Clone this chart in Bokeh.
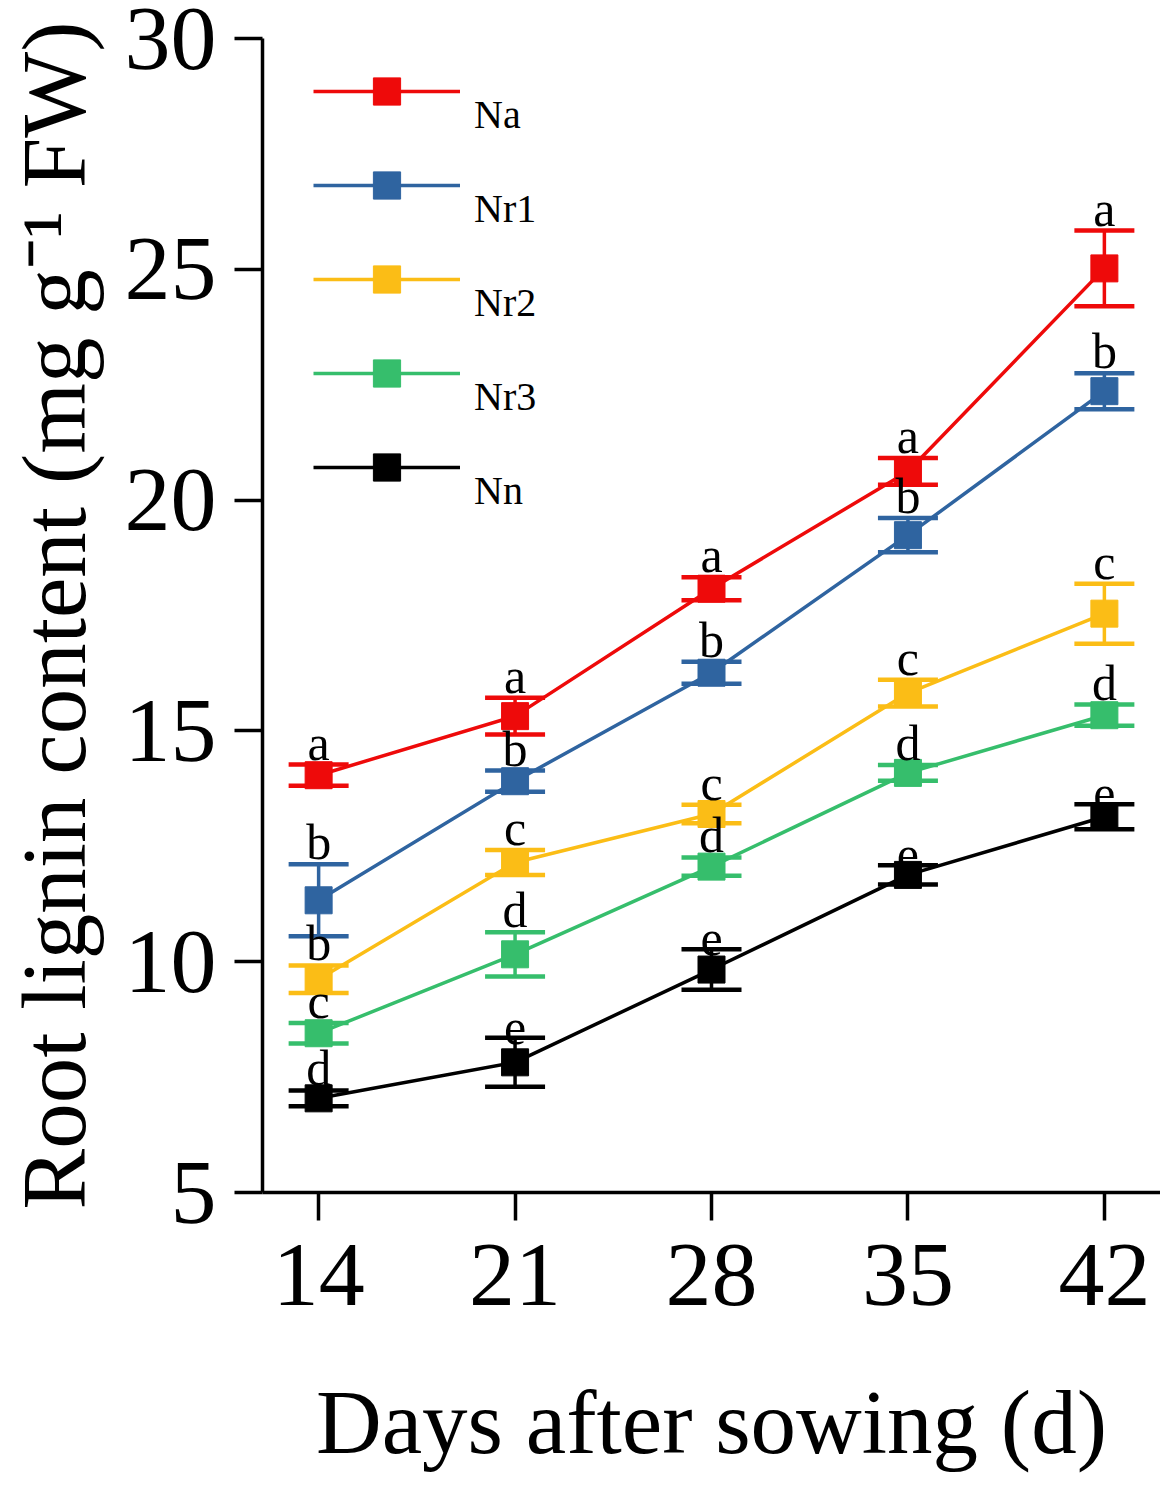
from bokeh.plotting import figure
from bokeh.models import (ColumnDataSource, Whisker, TeeHead, FixedTicker, Legend, LegendItem, Range1d)
from bokeh.core.properties import value
from bokeh.embed import file_html
from bokeh.resources import INLINE

days = [14, 21, 28, 35, 42]
series_names = ["Na", "Nr1", "Nr2", "Nr3", "Nn"]
colors = ["#EE0A0A", "#2F64A0", "#FBBD16", "#36BE6C", "#000000"]

na_mean = [14.04, 15.32, 18.08, 20.62, 25.02]
na_err = [0.23, 0.40, 0.25, 0.29, 0.82]
nr1_mean = [11.33, 13.91, 16.26, 19.24, 22.36]
nr1_err = [0.78, 0.23, 0.24, 0.37, 0.39]
nr2_mean = [9.62, 12.15, 13.20, 15.82, 17.54]
nr2_err = [0.30, 0.27, 0.20, 0.29, 0.65]
nr3_mean = [8.45, 10.16, 12.06, 14.09, 15.34]
nr3_err = [0.22, 0.48, 0.20, 0.17, 0.23]
nn_mean = [7.04, 7.82, 9.83, 11.88, 13.14]
nn_err = [0.17, 0.53, 0.44, 0.21, 0.27]

na_letters = ["a", "a", "a", "a", "a"]
nr1_letters = ["b", "b", "b", "b", "b"]
nr2_letters = ["b", "c", "c", "c", "c"]
nr3_letters = ["c", "d", "d", "d", "d"]
nn_letters = ["d", "e", "e", "e", "e"]

y_ticks = [5, 10, 15, 20, 25, 30]

means = [na_mean, nr1_mean, nr2_mean, nr3_mean, nn_mean]
errs = [na_err, nr1_err, nr2_err, nr3_err, nn_err]
letters = [na_letters, nr1_letters, nr2_letters, nr3_letters, nn_letters]

FONT = "Liberation Serif"

p = figure(width=1160, height=1480, output_backend="svg", toolbar_location=None,
           x_range=Range1d(12, 44), y_range=Range1d(5, 30),
           min_border_left=255, min_border_right=0, min_border_top=38, min_border_bottom=288)
p.outline_line_color = None
p.xgrid.visible = False
p.ygrid.visible = False
p.background_fill_color = "white"
p.border_fill_color = "white"

for ax in (p.xaxis[0], p.yaxis[0]):
    ax.axis_line_width = 3.5
    ax.major_tick_line_width = 3.5
    ax.major_tick_in = 0
    ax.major_tick_out = 28
    ax.minor_tick_line_color = None
    ax.major_label_text_font = FONT
    ax.major_label_text_font_size = "92px"
    ax.major_label_text_color = "black"
    ax.axis_label_text_font = FONT
    ax.axis_label_text_font_size = "91px"
    ax.axis_label_text_font_style = "normal"
    ax.axis_label_text_color = "black"

p.xaxis.ticker = FixedTicker(ticks=days)
p.yaxis.ticker = FixedTicker(ticks=y_ticks)
p.xaxis.major_label_standoff = 24
p.yaxis.major_label_standoff = 18
p.xaxis.axis_label = "Days after sowing (d)"
p.yaxis.axis_label = "Root lignin content (mg g\u207b\u00b9 FW)"
p.xaxis.axis_label_standoff = 64
p.yaxis.axis_label_standoff = 17

items = []
text_sources = []
for name, col, m, e, lab in zip(series_names, colors, means, errs, letters):
    src = ColumnDataSource(dict(
        x=days, y=m,
        upper=[a + b for a, b in zip(m, e)],
        lower=[a - b for a, b in zip(m, e)],
        lab=lab,
    ))
    ln = p.line("x", "y", source=src, line_color=col, line_width=3.5)
    w = Whisker(source=src, base="x", upper="upper", lower="lower", dimension="height",
                line_color=col, line_width=3.5, level="underlay",
                upper_head=TeeHead(size=60, line_color=col, line_width=4.5),
                lower_head=TeeHead(size=60, line_color=col, line_width=4.5))
    p.add_layout(w)
    sc = p.scatter("x", "y", source=src, marker="square", size=27,
                   fill_color=col, line_color=col)
    text_sources.append(src)
    items.append(LegendItem(label="\n" + name, renderers=[ln, sc]))

for src in text_sources:
    p.text("x", "upper", text="lab", source=src, text_font=value(FONT),
           text_font_size="50px", text_align="center", text_baseline="bottom",
           text_color="black", y_offset=6, level="overlay")

legend = Legend(items=items, location=(51, 678), orientation="vertical",
                glyph_width=147, glyph_height=68, spacing=0, padding=0, margin=0,
                label_standoff=14, label_text_font=FONT, label_text_font_size="40px",
                label_text_line_height=1.16, label_text_color="black",
                border_line_color=None, background_fill_alpha=0)
p.add_layout(legend)

open("out.html", "w").write(file_html(p, INLINE))
